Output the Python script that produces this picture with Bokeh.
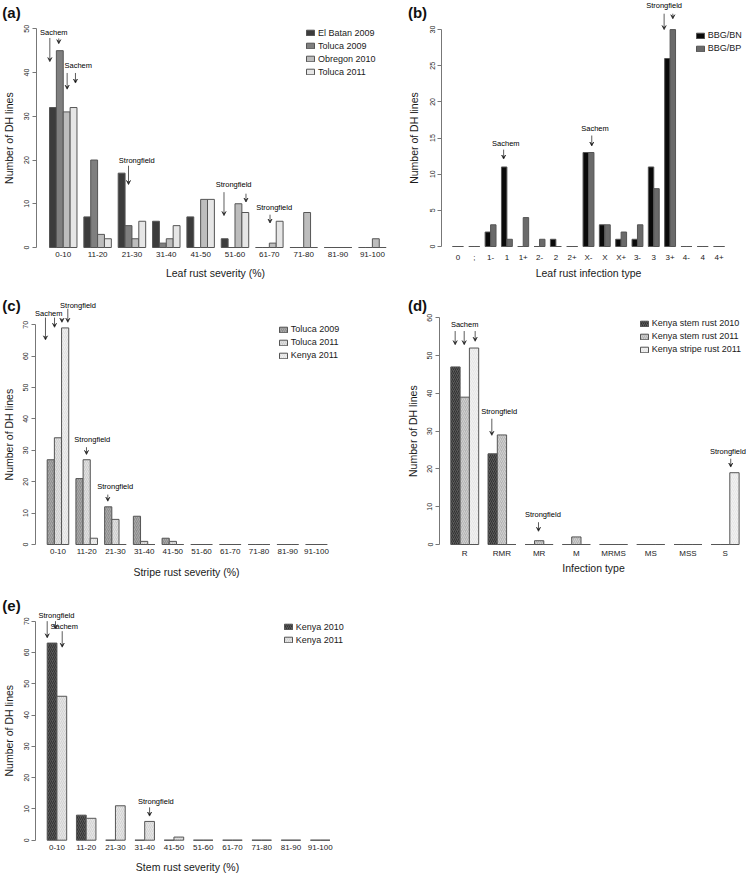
import math
from bokeh.plotting import figure
from bokeh.models import (Range1d, FixedTicker, Legend, LegendItem, Arrow,
                          VeeHead, ColumnDataSource)
from bokeh.layouts import column, row
from bokeh.embed import file_html
from bokeh.resources import INLINE
from bokeh.core.properties import value

# ---------------- data ----------------
severity_cats = ["0-10", "11-20", "21-30", "31-40", "41-50",
                 "51-60", "61-70", "71-80", "81-90", "91-100"]

# (a) leaf rust severity
a_series = ["El Batan 2009", "Toluca 2009", "Obregon 2010", "Toluca 2011"]
a_el_batan_2009 = [32, 7, 17, 6, 7, 2, 0, 0, 0, 0]
a_toluca_2009 = [45, 20, 5, 1, 0, 0, 0, 0, 0, 0]
a_obregon_2010 = [31, 3, 2, 2, 11, 10, 1, 8, 0, 2]
a_toluca_2011 = [32, 2, 6, 5, 11, 8, 6, 0, 0, 0]

# (b) leaf rust infection type
b_cats = ["0", ";", "1-", "1", "1+", "2-", "2", "2+", "X-", "X", "X+",
          "3-", "3", "3+", "4-", "4", "4+"]
b_series = ["BBG/BN", "BBG/BP"]
b_bbg_bn = [0, 0, 2, 11, 0, 0, 1, 0, 13, 3, 1, 1, 11, 26, 0, 0, 0]
b_bbg_bp = [0, 0, 3, 1, 4, 1, 0, 0, 13, 3, 2, 3, 8, 30, 0, 0, 0]

# (c) stripe rust severity
c_series = ["Toluca 2009", "Toluca 2011", "Kenya 2011"]
c_toluca_2009 = [27, 21, 12, 9, 2, 0, 0, 0, 0, 0]
c_toluca_2011 = [34, 27, 8, 1, 1, 0, 0, 0, 0, 0]
c_kenya_2011 = [69, 2, 0, 0, 0, 0, 0, 0, 0, 0]

# (d) infection type
d_cats = ["R", "RMR", "MR", "M", "MRMS", "MS", "MSS", "S"]
d_series = ["Kenya stem rust 2010", "Kenya stem rust 2011", "Kenya stripe rust 2011"]
d_stem_2010 = [47, 24, 0, 0, 0, 0, 0, 0]
d_stem_2011 = [39, 29, 1, 2, 0, 0, 0, 0]
d_stripe_2011 = [52, 0, 0, 0, 0, 0, 0, 19]

# (e) stem rust severity
e_series = ["Kenya 2010", "Kenya 2011"]
e_kenya_2010 = [63, 8, 0, 0, 0, 0, 0, 0, 0, 0]
e_kenya_2011 = [46, 7, 11, 6, 1, 0, 0, 0, 0, 0]

# ---------------- styling / layout ----------------
FONT = "Liberation Sans"
TXT = "#1a1a1a"
AX = "#777777"
OUTLINE = "#555555"
LEG_H = 11
LEG_SP = 2


def build(cats, names, values, fills, hatch_cols, ymax, ystep, xlabel, tag,
          geo, legend_pos, notes, arrows, xlab_standoff=4):
    fx0, fx1, fy0, fy1 = geo["fig"]
    ax_x = geo["axis_x"]
    u1, upx, y0, ypx = geo["map"]
    ux = lambda px: 1 + (px - u1) / upx      # page px -> bar units
    vy = lambda py: (y0 - py) / ypx          # page px -> counts
    n = len(names)
    p = figure(width=fx1 - fx0, height=fy1 - fy0,
               x_range=Range1d(ux(fx0), ux(fx1)), y_range=Range1d(vy(fy1), vy(fy0)),
               output_backend="svg", toolbar_location=None,
               min_border_left=0, min_border_right=0, min_border_top=0,
               min_border_bottom=0)
    p.xgrid.visible = False
    p.ygrid.visible = False
    p.outline_line_color = None

    rends = []
    for j, (nm, vals) in enumerate(zip(names, values)):
        left = [1 + i * (n + 1) + j for i in range(len(cats))]
        src = ColumnDataSource(dict(left=left, right=[v + 1 for v in left],
                                    top=vals, bottom=[0] * len(vals)))
        kw = {}
        if hatch_cols is not None:
            kw = dict(hatch_pattern="/", hatch_color=hatch_cols[j],
                      hatch_scale=4, hatch_weight=0.7)
        r = p.quad(left="left", right="right", top="top", bottom="bottom",
                   source=src, fill_color=fills[j], line_color=OUTLINE,
                   line_width=1, **kw)
        rends.append(r)

    # category axis, drawn along the bar baseline
    centers = [1 + i * (n + 1) + n / 2 for i in range(len(cats))]
    xa = p.xaxis[0]
    xa.fixed_location = 0
    xa.ticker = FixedTicker(ticks=centers)
    xa.major_label_overrides = {c: lab for c, lab in zip(centers, cats)}
    xa.axis_line_color = None
    xa.major_tick_line_color = None
    xa.minor_tick_line_color = None
    xa.major_tick_out = 0
    xa.major_tick_in = 0
    xa.major_label_standoff = xlab_standoff
    xa.major_label_text_font = FONT
    xa.major_label_text_font_size = "8px"
    xa.major_label_text_color = TXT

    # count axis, R style: line only over the tick range
    ya = p.yaxis[0]
    ya.fixed_location = ux(ax_x)
    ya.ticker = FixedTicker(ticks=list(range(0, ymax + 1, ystep)))
    ya.bounds = (0, ymax)
    ya.axis_line_color = AX
    ya.major_tick_line_color = AX
    ya.minor_tick_line_color = None
    ya.major_tick_out = 4
    ya.major_tick_in = 0
    ya.major_label_orientation = "vertical"
    ya.major_label_standoff = 3
    ya.major_label_text_font = FONT
    ya.major_label_text_font_size = "7px"
    ya.major_label_text_color = TXT

    # axis titles
    (xtx, xty), ytx = geo["xtitle"], geo["ytitle_x"]
    p.text(x=[ux(xtx)], y=[vy(xty)], text=[xlabel], text_font=value(FONT),
           text_font_size="10.5px", text_align="center", text_baseline="middle",
           text_color=TXT)
    p.text(x=[ux(ytx)], y=[ymax / 2], text=["Number of DH lines"], angle=math.pi / 2,
           text_font=value(FONT), text_font_size="10.5px", text_align="center",
           text_baseline="middle", text_color=TXT)

    # panel tag
    tx, ty = tag[1]
    p.text(x=[ux(tx)], y=[vy(ty)], text=[tag[0]], text_font=value(FONT),
           text_font_size="15px", text_font_style="bold", text_align="center",
           text_baseline="middle", text_color="#111111")

    # cultivar markers
    nsrc = ColumnDataSource(dict(x=[a[0] for a in notes], y=[a[1] for a in notes],
                                 t=[a[2] for a in notes]))
    p.text(x="x", y="y", text="t", source=nsrc, text_font=value(FONT),
           text_font_size="7.5px", text_align="center", text_baseline="middle",
           text_color="#000000")
    asrc = ColumnDataSource(dict(x=[a[0] for a in arrows], y0=[a[1] for a in arrows],
                                 y1=[a[2] for a in arrows]))
    p.add_layout(Arrow(source=asrc, x_start="x", y_start="y0", x_end="x", y_end="y1",
                       line_color="#333333", line_width=0.8,
                       end=VeeHead(size=4, line_color="#333333", line_width=0.8)))

    # series legend (location = bottom-left corner, from frame bottom-left)
    lx, ly = legend_pos
    leg_h = n * LEG_H + (n - 1) * LEG_SP
    leg = Legend(items=[LegendItem(label=nm, renderers=[r]) for nm, r in zip(names, rends)],
                 location=(lx - fx0, fy1 - ly - leg_h),
                 border_line_color=None, background_fill_alpha=0, padding=0, margin=0,
                 spacing=LEG_SP, label_height=LEG_H, glyph_height=7, glyph_width=10,
                 label_standoff=3, label_text_font=FONT, label_text_font_size="9px",
                 label_text_color=TXT)
    p.add_layout(leg)
    return p


pa = build(severity_cats, a_series,
           [a_el_batan_2009, a_toluca_2009, a_obregon_2010, a_toluca_2011],
           ["#3c3c3c", "#7f7f7f", "#bdbdbd", "#e6e6e6"], None, 50, 10,
           "Leaf rust severity (%)", ("(a)", (11, 12)),
           dict(fig=(0, 395, 0, 290), axis_x=35.5, map=(49, 6.87, 247, 4.374),
                xtitle=(215, 272.7), ytitle_x=8),
           (305, 27.2),
           [(1.63, 49.2, "Sachem"), (5.19, 41.7, "Sachem"), (13.7, 19.9, "Strongfield"),
            (27.8, 14.3, "Strongfield"), (33.7, 9.2, "Strongfield")],
           [(1.05, 47.9, 42.5), (2.35, 47.8, 46.6), (3.57, 39.9, 36.2), (4.78, 39.9, 37.6),
            (12.5, 18.7, 14.4), (26.4, 12.65, 7.3), (29.6, 12.3, 10.4), (33.1, 7.5, 5.6)])

pb = build(b_cats, b_series, [b_bbg_bn, b_bbg_bp],
           ["#0a0a0a", "#6a6a6a"], None, 30, 5,
           "Leaf rust infection type", ("(b)", (417, 11.7)),
           dict(fig=(395, 746, 0, 290), axis_x=441.1, map=(452, 5.44, 246, 7.23),
                xtitle=(588, 272.7), ytitle_x=413),
           (694.7, 29.5),
           [(10.8, 14.2, "Sachem"), (27.2, 16.3, "Sachem"), (39.9, 33.3, "Strongfield")],
           [(10.4, 13.4, 12.1), (26.6, 15.35, 13.9), (39.9, 32.2, 30.0), (41.5, 32.2, 31.5)],
           xlab_standoff=6)

pc = build(severity_cats, c_series, [c_toluca_2009, c_toluca_2011, c_kenya_2011],
           ["#8e8e8e", "#cdcdcd", "#f0f0f0"], ["#b8b8b8", "#ececec", "#d8d8d8"], 70, 10,
           "Stripe rust severity (%)", ("(c)", (11, 305)),
           dict(fig=(0, 385, 290, 580), axis_x=34.5, map=(46.7, 7.18, 544, 3.139),
                xtitle=(186, 571.7), ytitle_x=8.3),
           (277.7, 323.5),
           [(1.22, 73.6, "Sachem"), (5.29, 76.1, "Strongfield"), (7.27, 33.4, "Strongfield"),
            (10.47, 18.5, "Strongfield")],
           [(0.76, 72.3, 65.2), (2.02, 72.3, 69.2), (3.05, 72.0, 70.8), (3.87, 75.1, 70.8),
            (6.47, 31.0, 28.7), (9.44, 15.9, 13.8)])

pd_ = build(d_cats, d_series, [d_stem_2010, d_stem_2011, d_stripe_2011],
            ["#5a5a5a", "#b4b4b4", "#e6e6e6"], ["#1e1e1e", "#dedede", "#f8f8f8"], 60, 10,
            "Infection type", ("(d)", (417, 305)),
            dict(fig=(385, 746, 290, 580), axis_x=439, map=(450.3, 9.3, 544, 3.778),
                 xtitle=(593, 567.7), ytitle_x=412.3),
            (638.7, 317.8),
            [(2.49, 58.2, "Sachem"), (6.2, 35.2, "Strongfield"), (10.9, 7.9, "Strongfield"),
             (30.8, 24.6, "Strongfield")],
            [(1.47, 56.5, 52.9), (2.44, 56.5, 52.9), (3.62, 56.5, 53.8), (5.41, 33.3, 28.9),
             (10.43, 5.9, 3.5), (31.1, 22.7, 20.5)])

pe = build(severity_cats, e_series, [e_kenya_2010, e_kenya_2011],
           ["#595959", "#e6e6e6"], ["#222222", "#c8c8c8"], 70, 10,
           "Stem rust severity (%)", ("(e)", (11, 605)),
           dict(fig=(0, 385, 580, 873), axis_x=35.4, map=(46.7, 9.75, 839.7, 3.129),
                xtitle=(187, 866), ytitle_x=8.3),
           (282.7, 621.2),
           [(1.95, 71.8, "Strongfield"), (2.75, 68.3, "Sachem"), (12.14, 12.4, "Strongfield")],
           [(1.0, 70.0, 64.7), (1.85, 70.0, 67.6), (2.54, 66.8, 61.7), (11.5, 10.5, 7.7)],
           xlab_standoff=5)

layout = column(row(pa, pb), row(pc, pd_), row(pe), spacing=0)
open("out.html", "w").write(file_html(layout, INLINE))
